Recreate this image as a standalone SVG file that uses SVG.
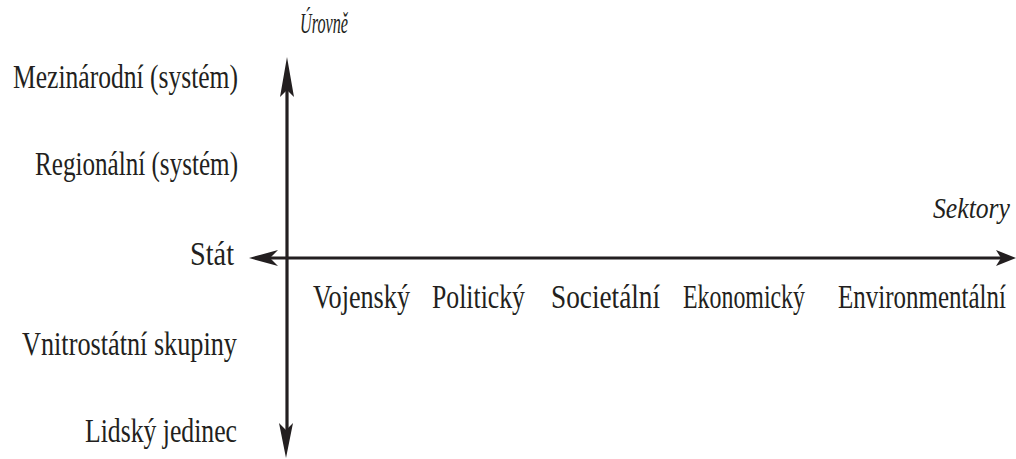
<svg xmlns="http://www.w3.org/2000/svg" width="1016" height="459" viewBox="0 0 1016 459">
<style>
.t{font-family:"Liberation Serif","Times New Roman",serif;font-size:33px;fill:#231f20}
.i{font-style:italic;font-size:30px}
.ax{stroke:#231f20;stroke-width:3.2;fill:none}
.ah{fill:#231f20}
</style>
<rect width="1016" height="459" fill="#fff"/>
<g id="connectors">
<line class="ax" x1="287" y1="85" x2="287" y2="430"/>
<line class="ax" x1="265" y1="258" x2="1005" y2="258"/>
<path class="ah" d="M287,57 L294,97 L287,90 L280,97 Z"/>
<path class="ah" d="M286,458 L293,423 L286,430 L279,423 Z"/>
<path class="ah" d="M249,258 L278,250 L270,258 L278,266 Z"/>
<path class="ah" d="M1016,258 L996,250 L1001,258 L996,266 Z"/>
</g>
<g id="axis-levels"><text class="t i" x="300" y="33" textLength="48" lengthAdjust="spacingAndGlyphs">Úrovně</text></g>
<g id="axis-sectors"><text class="t i" x="933" y="218" textLength="77" lengthAdjust="spacingAndGlyphs">Sektory</text></g>
<g id="level-1"><text class="t" x="13" y="88" textLength="225" lengthAdjust="spacingAndGlyphs">Mezinárodní (systém)</text></g>
<g id="level-2"><text class="t" x="35" y="175" textLength="203" lengthAdjust="spacingAndGlyphs">Regionální (systém)</text></g>
<g id="level-3"><text class="t" x="190" y="265" textLength="44" lengthAdjust="spacingAndGlyphs">Stát</text></g>
<g id="level-4"><text class="t" x="22" y="355" textLength="215" lengthAdjust="spacingAndGlyphs">Vnitrostátní skupiny</text></g>
<g id="level-5"><text class="t" x="85" y="442" textLength="152" lengthAdjust="spacingAndGlyphs">Lidský jedinec</text></g>
<g id="sector-1"><text class="t" x="313" y="308" textLength="97" lengthAdjust="spacingAndGlyphs">Vojenský</text></g>
<g id="sector-2"><text class="t" x="432" y="308" textLength="93" lengthAdjust="spacingAndGlyphs">Politický</text></g>
<g id="sector-3"><text class="t" x="551" y="308" textLength="109" lengthAdjust="spacingAndGlyphs">Societální</text></g>
<g id="sector-4"><text class="t" x="683" y="308" textLength="122" lengthAdjust="spacingAndGlyphs">Ekonomický</text></g>
<g id="sector-5"><text class="t" x="838" y="308" textLength="168" lengthAdjust="spacingAndGlyphs">Environmentální</text></g>
</svg>
